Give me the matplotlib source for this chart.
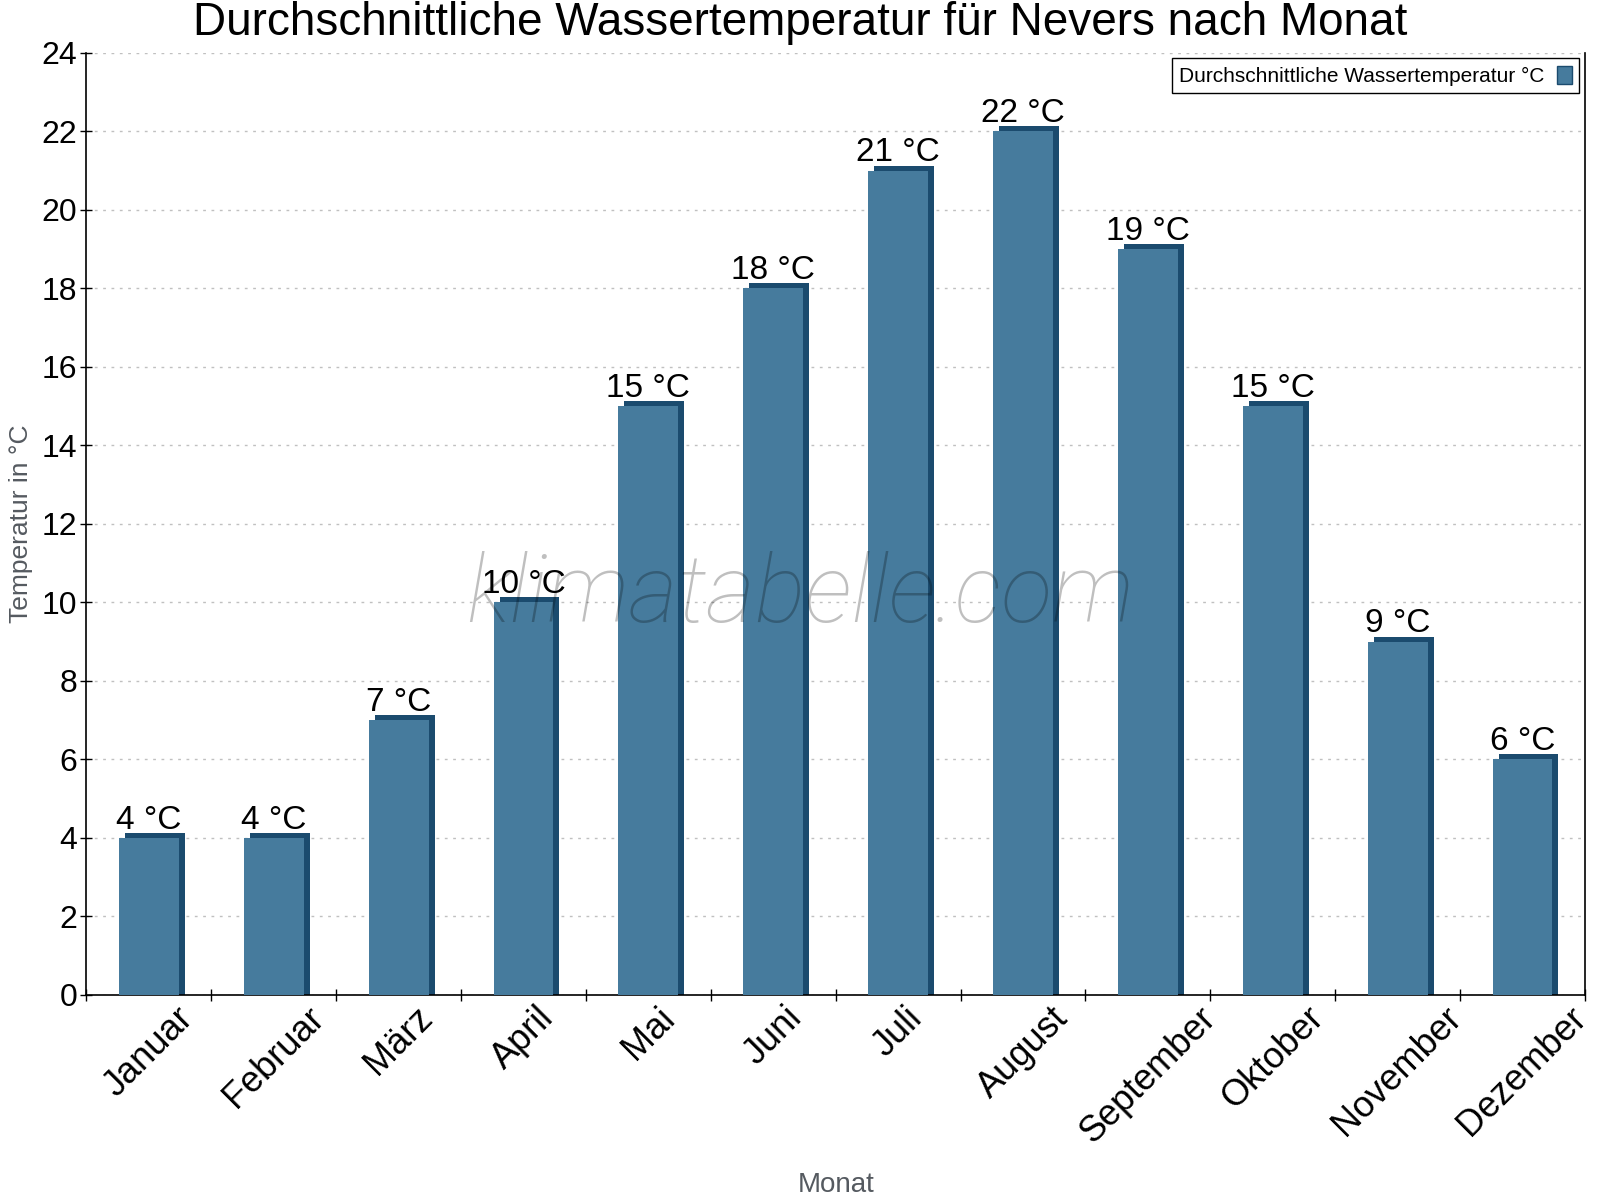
import matplotlib
matplotlib.use("Agg")
import matplotlib.pyplot as plt
from matplotlib.transforms import ScaledTranslation
from matplotlib.patches import Patch
import numpy as np

plt.rcParams['font.family'] = ['Liberation Sans', 'DejaVu Sans']

months = ["Januar", "Februar", "März", "April", "Mai", "Juni", "Juli",
          "August", "September", "Oktober", "November", "Dezember"]
temps = [4, 4, 7, 10, 15, 18, 21, 22, 19, 15, 9, 6]
yticks = [0, 2, 4, 6, 8, 10, 12, 14, 16, 18, 20, 22, 24]

title = "Durchschnittliche Wassertemperatur für Nevers nach Monat"
legend_label = "Durchschnittliche Wassertemperatur °C"
ylabel = "Temperatur in °C"
xlabel = "Monat"

face = "#467b9d"
side = "#1b4b6e"

fig = plt.figure(figsize=(16, 12), dpi=100)
ax = fig.add_axes([0.054, 0.171, 0.9366, 0.785])

x = np.arange(len(months))
w = 0.48

# depth bars: one shifted right+up (top face), one shifted right only (side face)
shadow_top = ax.bar(x, temps, width=w, color=side, zorder=2, linewidth=0)
shadow_side = ax.bar(x, temps, width=w, color=side, zorder=2, linewidth=0)
off_top = ScaledTranslation(6 / 100, 5 / 100, fig.dpi_scale_trans)
off_side = ScaledTranslation(6 / 100, -1 / 100, fig.dpi_scale_trans)
for p in shadow_top:
    p.set_transform(ax.transData + off_top)
for p in shadow_side:
    p.set_transform(ax.transData + off_side)
bars = ax.bar(x, temps, width=w, color=face, zorder=3, linewidth=0)

for xi, v in zip(x, temps):
    ax.annotate(f"{v} °C", (xi, v), xytext=(0, 1.5), textcoords="offset points",
                ha="center", va="bottom", fontsize=24, zorder=5)

ax.set_xlim(-0.5, len(months) - 0.5)
ax.set_ylim(0, 24)
ax.set_yticks(yticks)
ax.set_yticklabels([str(t) for t in yticks], fontsize=23)
ax.yaxis.grid(True, linestyle=(0, (2, 4)), color="#c0c0c0", linewidth=1, zorder=0)
ax.set_axisbelow(True)

ax.set_xticks(x)
ax.set_xticklabels(months, rotation=45, ha="center", va="top", fontsize=26)
ax.tick_params(axis="x", which="major", length=0, pad=4)
ax.set_xticks(np.arange(-0.5, len(months) + 0.5, 1.0), minor=True)
ax.tick_params(axis="x", which="minor", length=9, direction="inout", width=1)
ax.tick_params(axis="y", which="major", length=9, direction="inout", width=1, pad=2)

ax.spines["top"].set_visible(False)
for s in ["left", "right", "bottom"]:
    ax.spines[s].set_linewidth(1.2)

ax.set_ylabel(ylabel, fontsize=19, color="#555a60", labelpad=6)
fig.text(0.5 * (0.054 + 0.9906), 0.002, xlabel, fontsize=20, color="#555a60",
         ha="center", va="bottom")

fig.text(0.5, 0.981, title, fontsize=33, ha="center", va="center")

fig.text(0.5, 0.503, "klimatabelle.com", fontsize=68, fontstyle="italic",
         fontweight="light", family=["Roboto", "Liberation Sans"],
         color="black", alpha=0.25, ha="center", va="center", zorder=10)

handle = Patch(facecolor=face, edgecolor=side, linewidth=1)
leg = ax.legend([handle], [legend_label], loc="upper right", markerfirst=False,
                fontsize=15, frameon=True, fancybox=False, edgecolor="black",
                framealpha=1, handlelength=0.7, handleheight=1.0,
                borderaxespad=0, borderpad=0.35, handletextpad=0.6,
                bbox_to_anchor=(0.996, 0.994))
leg.get_frame().set_linewidth(1)

fig.savefig("out.png", dpi=100)
